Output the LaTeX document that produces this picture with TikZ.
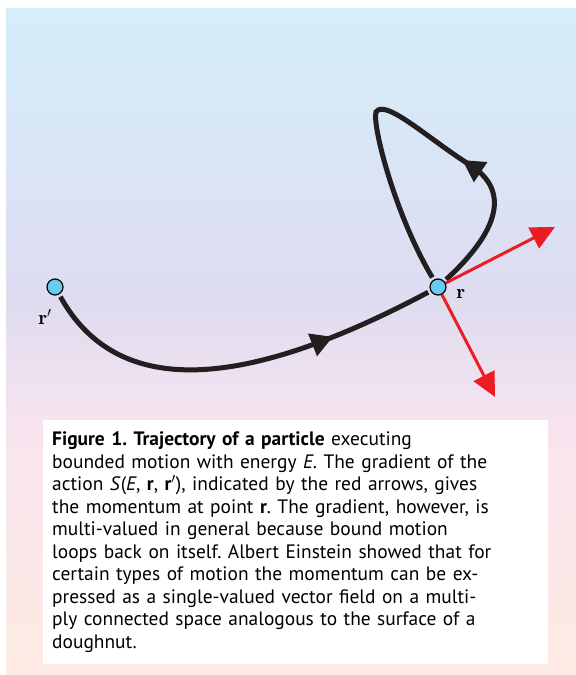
\documentclass[tikz,border=0pt]{standalone}
\usepackage{fontspec}
\usepackage{amsmath}
\usetikzlibrary{arrows.meta, positioning, decorations.markings}
\newfontfamily\capfont{PT Sans}
\definecolor{skytop}{HTML}{D5EEFA}
\definecolor{lilac}{HTML}{DEDCF0}
\definecolor{blush}{HTML}{F8E4EE}
\definecolor{peach}{HTML}{FDEBE3}
\definecolor{dotcyan}{HTML}{66CCF2}
\definecolor{vecred}{HTML}{EC1C24}
\definecolor{pathblack}{HTML}{231F20}

\begin{document}
\frenchspacing
\begin{tikzpicture}[x=1bp, y=-1bp,
  site/.style={circle, draw=black, line width=1.2bp, fill=dotcyan,
    minimum size=16bp, inner sep=0pt},
  traj/.style={draw=pathblack, line width=5bp, shorten <=2.5bp, shorten >=2.5bp},
  flow/.style={postaction={decorate}, decoration={markings,
    mark=at position #1 with {\arrow[pathblack]{Triangle[length=22bp, width=23bp]}}}},
  gradvec/.style={draw=vecred, line width=3bp, -{Triangle[length=24bp, width=23bp]}},
  ptlabel/.style={font=\fontsize{20}{24}\selectfont, inner sep=0pt},
  capbox/.style={anchor=north west, fill=white, align=left,
    minimum width=505bp, minimum height=244bp, text width=487bp,
    inner xsep=9bp, inner ysep=0pt,
    font=\capfont\fontsize{19.5}{22.6}\selectfont}]

\useasboundingbox (0,0) rectangle (576,675);

% Background
\shade[top color=skytop, bottom color=lilac] (6,9) rectangle (576,301);
\shade[top color=lilac, bottom color=blush] (6,300) rectangle (576,431);
\shade[top color=blush, bottom color=peach] (6,430) rectangle (576,675);

% --- Points r' and r ---
\node[site] (rp) at (55,287) {};
\node[site] (r) at (438,287) {};
\node[ptlabel] (rplab) at (45,317) {$\mathbf{r}'$};
\node[ptlabel] (rlab) at (461,294) {$\mathbf{r}$};

% --- Trajectory from r' to r ---
\draw[traj, flow=0.74] (rp) .. controls (115,395) and (235,395) .. (r);

% --- Loop back onto r ---
\draw[traj, flow=0.35] (r) .. controls (500,230) and (510,190) .. (470,165)
  .. controls (430,140) and (385,98) .. (376,112)
  .. controls (372,125) and (395,215) .. (r);

% --- Gradient of the action (red arrows) ---
\coordinate (pup) at (555,227);
\coordinate (pdown) at (495,397);
\draw[gradvec] (r) -- (pup);
\draw[gradvec] (r) -- (pdown);

% --- Caption ---
\node[capbox] (cap) at (43,420)
  {\textbf{Figure 1. Trajectory of a particle} executing\\
   bounded motion with energy \textit{E}. The gradient of the\\
   action \textit{S}(\textit{E}, \textbf{r}, \textbf{r}$'$), indicated by the red arrows, gives\\
   the momentum at point \textbf{r}. The gradient, however, is\\
   multi-valued in general because bound motion\\
   loops back on itself. Albert Einstein showed that for\\
   certain types of motion the momentum can be ex-\\
   pressed as a single-valued vector field on a multi-\\
   ply connected space analogous to the surface of a\\
   doughnut.};

\end{tikzpicture}
\end{document}
